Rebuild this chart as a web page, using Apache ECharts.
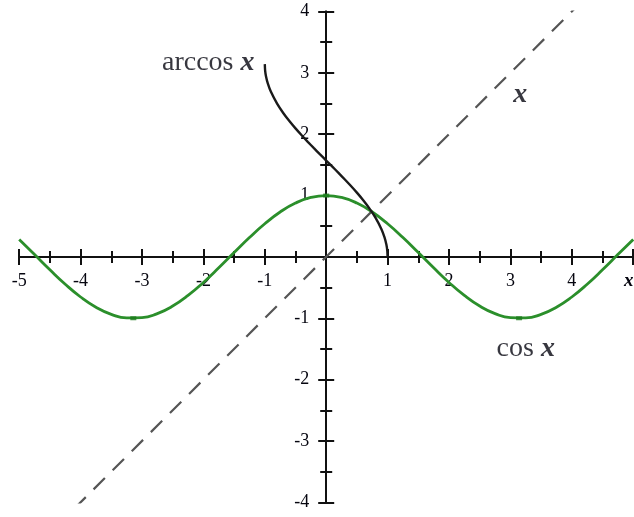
<!DOCTYPE html>
<html>
<head>
<meta charset="utf-8">
<script src="https://cdn.jsdelivr.net/npm/echarts@6/dist/echarts.min.js"></script>
<style>
  html, body { margin: 0; padding: 0; background: #fff; }
  #chart { width: 634px; height: 517px; }
</style>
</head>
<body>
<div id="chart"></div>
<script>
// cos x sampled every 0.25 on [-5, 5]
const cosX = [-5, -4.75, -4.5, -4.25, -4, -3.75, -3.5, -3.25, -3, -2.75, -2.5, -2.25, -2, -1.75, -1.5, -1.25, -1, -0.75, -0.5, -0.25,
  0, 0.25, 0.5, 0.75, 1, 1.25, 1.5, 1.75, 2, 2.25, 2.5, 2.75, 3, 3.25, 3.5, 3.75, 4, 4.25, 4.5, 4.75, 5];
const cosY = [0.2837, 0.0376, -0.2108, -0.4461, -0.6536, -0.8206, -0.9365, -0.9941, -0.9900, -0.9243, -0.8011, -0.6282, -0.4161, -0.1782, 0.0707, 0.3153, 0.5403, 0.7317, 0.8776, 0.9689,
  1, 0.9689, 0.8776, 0.7317, 0.5403, 0.3153, 0.0707, -0.1782, -0.4161, -0.6282, -0.8011, -0.9243, -0.9900, -0.9941, -0.9365, -0.8206, -0.6536, -0.4461, -0.2108, 0.0376, 0.2837];

// extrema of cos x
const cosExtremaX = [-3.1416, 0, 3.1416];
const cosExtremaY = [-1, 1, -1];

// arccos x on [-1, 1]
const acosX = [-1, -0.995, -0.98, -0.95, -0.9, -0.8, -0.7, -0.6, -0.5, -0.4, -0.3, -0.2, -0.1, 0,
  0.1, 0.2, 0.3, 0.4, 0.5, 0.6, 0.7, 0.8, 0.9, 0.95, 0.98, 0.995, 1];
const acosY = [3.1416, 3.0415, 2.9413, 2.8240, 2.6906, 2.4981, 2.3462, 2.2143, 2.0944, 1.9823, 1.8755, 1.7722, 1.6710, 1.5708,
  1.4706, 1.3694, 1.2661, 1.1593, 1.0472, 0.9273, 0.7954, 0.6435, 0.4510, 0.3176, 0.2003, 0.1001, 0];

// the line y = x
const idX = [-4.1, 4.1];
const idY = [-4.1, 4.1];

// axis tick labels
const xTickLabels = { '-5': '-5', '-4': '-4', '-3': '-3', '-2': '-2', '-1': '-1', '1': '1', '2': '2', '3': '3', '4': '4', '5': '{v|x}' };
const yTickLabels = { '-4': '-4', '-3': '-3', '-2': '-2', '-1': '-1', '1': '1', '2': '2', '3': '3', '4': '4' };

// curve names placed next to each curve
const curveNames = ['arccos', 'x', 'cos'];
const nameX = [-1.168, 3.16, 3.25];
const nameY = [3.17, 2.65, -1.49];
const namePos = ['left', 'inside', 'inside'];

const zip = (xs, ys) => xs.map((x, i) => [x, ys[i]]);

const serif = '"Liberation Serif", "DejaVu Serif", serif';
const ink = '#05050f';
const green = '#2b8f2b';

// plot area: both axes use the same unit length, origin in the middle
const gridBox = { left: 19.2, right: 0.8, top: 11.5, bottom: 14.7 };
const gridW = 634 - gridBox.left - gridBox.right;
const gridH = 517 - gridBox.top - gridBox.bottom;
const X_MIN = -5, X_MAX = 5, Y_MIN = -4, Y_MAX = 4;
// shift the axes from the grid edges onto the origin
const xAxisShift = -gridH * (0 - Y_MIN) / (Y_MAX - Y_MIN);
const yAxisShift = -gridW * (0 - X_MIN) / (X_MAX - X_MIN);

function xAxisDef(withLabels, inside) {
  return {
    type: 'value', position: 'bottom', offset: xAxisShift,
    min: X_MIN, max: X_MAX, interval: 1,
    splitLine: { show: false }, minorSplitLine: { show: false },
    axisLine: { onZero: false, lineStyle: { color: '#111', width: 2 } },
    axisTick: { show: true, inside: inside, length: 8, lineStyle: { color: '#111', width: 2 } },
    minorTick: { show: true, splitNumber: 2, length: 6, lineStyle: { color: '#111', width: 2 } },
    axisLabel: {
      show: withLabels, margin: 15, fontFamily: serif, fontSize: 18, color: ink,
      formatter: v => xTickLabels[String(v)] || '',
      rich: { v: { fontFamily: serif, fontSize: 19, fontStyle: 'italic', fontWeight: 'bold', color: ink, padding: [0, 9, 0, 0] } }
    }
  };
}

function yAxisDef(withLabels, inside) {
  return {
    type: 'value', position: 'left', offset: yAxisShift,
    min: Y_MIN, max: Y_MAX, interval: 1,
    splitLine: { show: false }, minorSplitLine: { show: false },
    axisLine: { onZero: false, lineStyle: { color: '#111', width: 2 } },
    axisTick: { show: true, inside: inside, length: 8, lineStyle: { color: '#111', width: 2 } },
    minorTick: { show: true, splitNumber: 2, length: 6, lineStyle: { color: '#111', width: 2 } },
    axisLabel: {
      show: withLabels, margin: 17, fontFamily: serif, fontSize: 18, color: ink,
      formatter: v => yTickLabels[String(v)] || ''
    }
  };
}

const chart = echarts.init(document.getElementById('chart'), null, { renderer: 'canvas' });

chart.setOption({
  animation: false,
  backgroundColor: '#fff',
  grid: Object.assign({ containLabel: false, outerBoundsMode: 'none' }, gridBox),
  xAxis: [xAxisDef(true, false), xAxisDef(false, true)],
  yAxis: [yAxisDef(true, false), yAxisDef(false, true)],
  series: [
    {
      name: 'y = x', type: 'line', data: zip(idX, idY), showSymbol: false,
      lineStyle: { color: '#555', width: 2.2, type: [16, 11] }, z: 2
    },
    {
      name: 'cos x', type: 'line', data: zip(cosX, cosY), smooth: true, showSymbol: false,
      lineStyle: { color: green, width: 2.8 }, z: 3
    },
    {
      name: 'extrema', type: 'scatter', data: zip(cosExtremaX, cosExtremaY),
      symbol: 'rect', symbolSize: [6, 4], itemStyle: { color: '#1d7a1d' }, z: 4
    },
    {
      name: 'arccos x', type: 'line', data: zip(acosX, acosY), smooth: 0.2, showSymbol: false,
      lineStyle: { color: '#1a1a1a', width: 2.4 }, z: 4
    },
    {
      name: 'names', type: 'scatter', symbolSize: 0, z: 5,
      data: curveNames.map((n, i) => ({
        value: [nameX[i], nameY[i]], name: n,
        label: { position: namePos[i], distance: 0 }
      })),
      label: {
        show: true,
        formatter: p => p.name === 'x' ? '{v|x}' : '{t|' + p.name + ' }{v|x}',
        rich: {
          t: { fontFamily: serif, fontSize: 28, color: ink },
          v: { fontFamily: serif, fontSize: 28, fontStyle: 'italic', fontWeight: 'bold', color: ink }
        }
      }
    }
  ]
});
</script>
</body>
</html>
